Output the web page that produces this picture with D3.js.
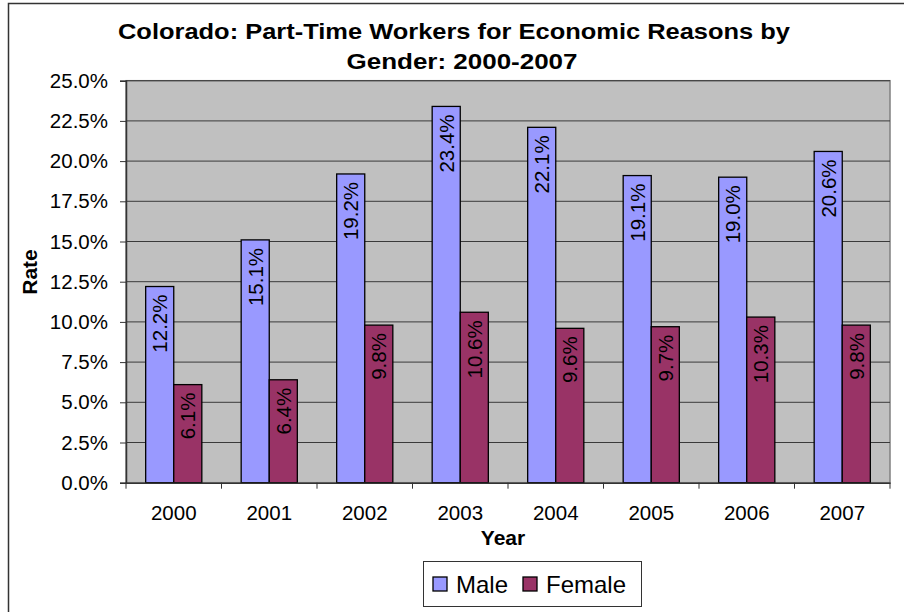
<!DOCTYPE html>
<html>
<head>
<meta charset="utf-8">
<script src="https://cdn.jsdelivr.net/npm/d3@7"></script>
<style>
    body { margin: 0; background: #fff; }
    svg { display: block; font-family: "Liberation Sans", Arial, sans-serif; }
</style>
</head>
<body>
<svg id="chart" width="904" height="612"></svg>
<script>
"use strict";

// данные графика
const years = ["2000", "2001", "2002", "2003", "2004", "2005", "2006", "2007"];
const male = [12.2, 15.1, 19.2, 23.4, 22.1, 19.1, 19.0, 20.6];
const female = [6.1, 6.4, 9.8, 10.6, 9.6, 9.7, 10.3, 9.8];
const yTicks = [0, 2.5, 5, 7.5, 10, 12.5, 15, 17.5, 20, 22.5, 25];
const seriesNames = ["Male", "Female"];
const seriesColors = ["#9999ff", "#993366"];

const svg = d3.select("#chart");

// рамка всей диаграммы (справа и снизу обрезана)
svg.append("rect")
    .attr("x", 8.5).attr("y", 3.5)
    .attr("width", 1000).attr("height", 1000)
    .attr("fill", "#fff")
    .attr("stroke", "#333").attr("stroke-width", 1.5);

const plot = { left: 126, right: 890, top: 80.7, bottom: 482.7 };

const x = d3.scaleBand()
    .domain(years)
    .range([plot.left, plot.right]);

const y = d3.scaleLinear()
    .domain([0, 25])
    .range([plot.bottom, plot.top]);

// фон области построения
svg.append("rect")
    .attr("x", plot.left).attr("y", plot.top)
    .attr("width", plot.right - plot.left)
    .attr("height", plot.bottom - plot.top)
    .attr("fill", "#c0c0c0")
    .attr("stroke", "#808080").attr("stroke-width", 1.5);

// сетка
svg.append("g")
    .selectAll("line")
    .data(yTicks.slice(1))
    .join("line")
    .attr("x1", plot.left).attr("x2", plot.right)
    .attr("y1", d => y(d)).attr("y2", d => y(d))
    .attr("stroke", "#3a3a3a").attr("stroke-width", 1);

// столбцы
const barW = x.bandwidth() * 0.294;
const series = [male, female];

series.forEach((vals, si) => {
    const g = svg.append("g");
    g.selectAll("rect")
        .data(vals)
        .join("rect")
        .attr("x", (d, i) => x(years[i]) + x.bandwidth() / 2 - barW + si * barW)
        .attr("y", d => y(d))
        .attr("width", barW)
        .attr("height", d => y(0) - y(d))
        .attr("fill", seriesColors[si])
        .attr("stroke", "#000").attr("stroke-width", 1.3);

    // подписи значений (повернуты)
    g.selectAll("text")
        .data(vals)
        .join("text")
        .attr("transform", (d, i) => {
            const cx = x(years[i]) + x.bandwidth() / 2 - barW / 2 + si * barW;
            return `translate(${cx},${y(d) + 8}) rotate(-90)`;
        })
        .attr("text-anchor", "end")
        .attr("dy", "0.36em")
        .attr("font-size", 20.5)
        .attr("fill", "#000")
        .text(d => d.toFixed(1) + "%");
});

// ось Y
const yAxis = svg.append("g")
    .attr("transform", `translate(${plot.left},0)`)
    .call(d3.axisLeft(y).tickValues(yTicks).tickSize(6).tickPadding(12)
        .tickFormat(d => d.toFixed(1) + "%"));
yAxis.select(".domain").attr("stroke", "#333").attr("stroke-width", 1.5);
yAxis.selectAll(".tick line").attr("stroke", "#333");
yAxis.selectAll(".tick text")
    .attr("font-family", "Liberation Sans, Arial, sans-serif")
    .attr("font-size", 20.5).attr("fill", "#000");

// ось X
const xAxis = svg.append("g")
    .attr("transform", `translate(0,${plot.bottom})`)
    .call(d3.axisBottom(x).tickSize(0).tickPadding(23));
xAxis.select(".domain").attr("stroke", "#333").attr("stroke-width", 1.5);
xAxis.selectAll(".tick text")
    .attr("font-family", "Liberation Sans, Arial, sans-serif")
    .attr("font-size", 20.5).attr("fill", "#000");
// засечки на границах категорий
xAxis.append("g")
    .selectAll("line")
    .data(years.concat(["end"]))
    .join("line")
    .attr("x1", (d, i) => plot.left + i * x.step())
    .attr("x2", (d, i) => plot.left + i * x.step())
    .attr("y1", 0).attr("y2", 6)
    .attr("stroke", "#333");

// заголовок
const title = svg.append("g")
    .attr("font-weight", "bold").attr("font-size", 22).attr("text-anchor", "middle");
title.append("text")
    .attr("x", 454).attr("y", 39)
    .attr("textLength", 672).attr("lengthAdjust", "spacingAndGlyphs")
    .text("Colorado: Part-Time Workers for Economic Reasons by");
title.append("text")
    .attr("x", 462).attr("y", 69)
    .attr("textLength", 231).attr("lengthAdjust", "spacingAndGlyphs")
    .text("Gender: 2000-2007");

// подписи осей
svg.append("text")
    .attr("x", 503).attr("y", 545)
    .attr("text-anchor", "middle")
    .attr("font-weight", "bold").attr("font-size", 21)
    .text("Year");
svg.append("text")
    .attr("transform", "translate(37,272) rotate(-90)")
    .attr("text-anchor", "middle")
    .attr("font-weight", "bold").attr("font-size", 21)
    .text("Rate");

// легенда
const legend = svg.append("g");
legend.append("rect")
    .attr("x", 423.5).attr("y", 561.5)
    .attr("width", 218).attr("height", 45)
    .attr("fill", "#fff").attr("stroke", "#333");

const legendX = [433, 523];
seriesNames.forEach((name, i) => {
    legend.append("rect")
        .attr("x", legendX[i]).attr("y", 577)
        .attr("width", 14).attr("height", 14)
        .attr("fill", seriesColors[i])
        .attr("stroke", "#000").attr("stroke-width", 1.3);
    legend.append("text")
        .attr("x", legendX[i] + 23).attr("y", 593)
        .attr("font-size", 24)
        .text(name);
});
</script>
</body>
</html>
